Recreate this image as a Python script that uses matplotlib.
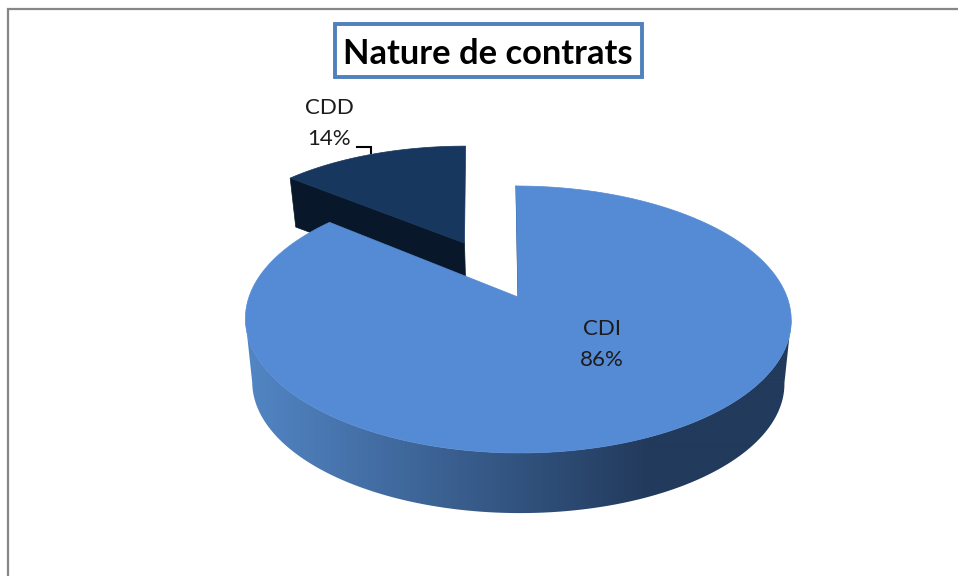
import numpy as np
import matplotlib
matplotlib.use("Agg")
import matplotlib.pyplot as plt
from matplotlib.patches import Polygon, Rectangle
from matplotlib.colors import to_rgb

categories = ["CDI", "CDD"]
values = [86, 14]
percent_labels = ["86%", "14%"]
title = "Nature de contrats"

X0, Y0 = 518.0, 297.0
A, B, K = 269.0, 129.7, 0.1685
SHRINK = 0.025
SKEW = 2.0
DEPTH_MAIN, DEPTH_CDD = 64.0, 46.0
EXPLODE = 0.494
CDD_DX, CDD_SKEW = 0.0, 4.0
FONT = "Lato"

def project(px, py, z=0.0, depth=DEPTH_MAIN):
    px, py = np.asarray(px, float), np.asarray(py, float)
    s = 1 - SHRINK * z
    d = 1 + K * py
    return X0 + s * A * px / d - SKEW * py, Y0 + depth * z - s * B * py / d

def arc(start_deg, end_deg, n=240, ox=0.0, oy=0.0):
    t = np.radians(np.linspace(start_deg, end_deg, n))
    return np.sin(t) + ox, np.cos(t) + oy

fig = plt.figure(figsize=(9.58, 5.76), dpi=100, facecolor="white")
ax = fig.add_axes([0, 0, 1, 1])
ax.set_xlim(0, 958)
ax.set_ylim(576, 0)
ax.axis("off")

ax.plot([8.5, 8.5, 958], [576, 8.5, 8.5], color="#868686", lw=1.6, solid_joinstyle="miter")

total = sum(values)
main_sweep = 360.0 * values[0] / total

# exploded CDD slice
start, end = main_sweep, 360.0
mid = np.radians((start + end) / 2)
ox, oy = EXPLODE * np.sin(mid), EXPLODE * np.cos(mid)

def cdd_project(px, py, z=0.0):
    x, y = project(px, py, z, DEPTH_CDD)
    return x + CDD_DX - CDD_SKEW * (np.asarray(py) - oy), y

ax_, ay_ = arc(start, end, 60, ox, oy)
top_x, top_y = cdd_project(np.r_[ox, ax_], np.r_[oy, ay_])
fx, fy = np.array([ax_[0], ox]), np.array([ay_[0], oy])
tx, ty = cdd_project(fx, fy)
bx, by = cdd_project(fx, fy, 1)
ax.add_patch(Polygon(np.c_[np.r_[tx, bx[::-1]], np.r_[ty, by[::-1]]], closed=True,
                     fc="#08182a", ec="#08182a", lw=0.5, zorder=2))
ax.add_patch(Polygon(np.c_[top_x, top_y], closed=True, fc="#17375e", ec="#17375e", lw=0.5, zorder=3))

# side wall of the main slice: a horizontal gradient clipped to the wall outline,
# running between the two silhouette tangents of the projected circle
tangent = np.degrees(np.arccos(-K))
t1x, t1y = arc(tangent, 360 - tangent, 300)
wx, wy = project(t1x, t1y)
wbx, wby = project(t1x, t1y, 1)
outline = Polygon(np.c_[np.r_[wx, wbx[::-1]], np.r_[wy, wby[::-1]]], closed=True,
                  fc="none", ec="none", transform=ax.transData)
ax.add_patch(outline)
c_light, c_dark = np.array(to_rgb("#5285c4")), np.array(to_rgb("#223a5c"))
xs = np.linspace(230, 810, 580)
f = np.clip((xs - 250) / 400, 0, 1)[None, :, None]
grad = c_light[None, None, :] * (1 - f) + c_dark[None, None, :] * f
im = ax.imshow(grad, extent=(230, 810, 530, 300), aspect="auto", zorder=4, interpolation="bilinear")
im.set_clip_path(outline)
ax.set_xlim(0, 958)
ax.set_ylim(576, 0)

# main slice top
mx, my = arc(0, main_sweep, 400)
sx, sy = project(np.r_[0, mx], np.r_[0, my])
ax.add_patch(Polygon(np.c_[sx, sy], closed=True, fc="#558ad4", ec="#558ad4", lw=0.5, zorder=5))
lx, ly = project([0, 0], [0, 1])
ax.plot(lx, ly, color="#17375e", lw=0.7, zorder=4.5)

# labels
lab = dict(ha="center", va="center", fontsize=16, family=FONT, color="#1c1c1c", zorder=6)
ax.text(602, 329, categories[0], **lab)
ax.text(602, 360, percent_labels[0], **lab)
ax.text(329, 108, categories[1], **lab)
ax.text(329, 139, percent_labels[1], **lab)
ax.plot([357, 371, 371], [147, 147, 153], color="black", lw=1.5, zorder=2, solid_joinstyle="miter")

# title
ax.add_patch(Rectangle((335, 24), 307, 53, fc="white", ec="#4f81bd", lw=2.8, zorder=6))
ax.text(488, 54, title, ha="center", va="center", fontsize=24.8, fontweight="bold",
        family=FONT, color="black", zorder=7)

fig.savefig("out.png", dpi=100, facecolor="white")
